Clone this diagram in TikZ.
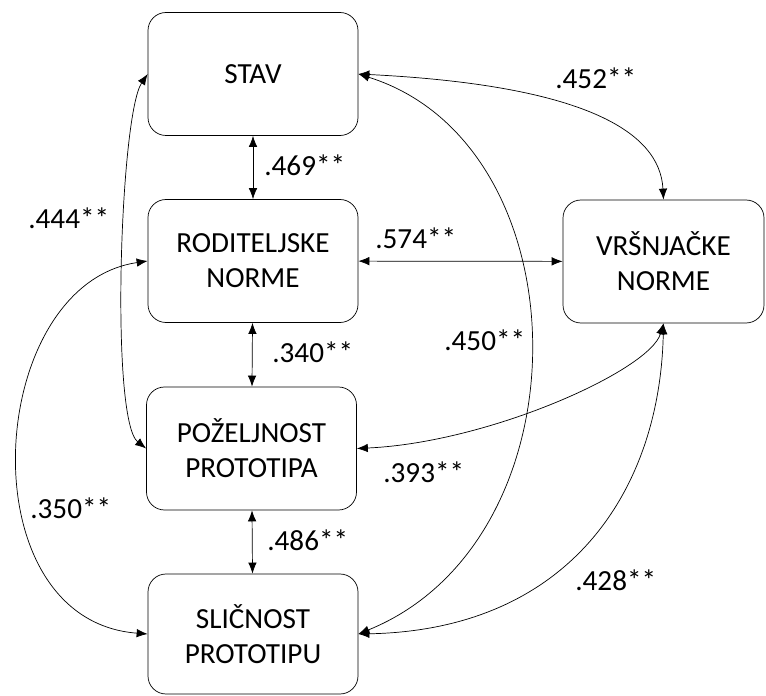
\documentclass[tikz,border=0pt]{standalone}
\usepackage{fontspec}
\setmainfont{Carlito}
\usepackage{tikz}
\usetikzlibrary{arrows.meta}

\begin{document}
\begin{tikzpicture}[
    varbox/.style={draw, rounded corners=0.36cm, minimum width=4.2cm, minimum height=2.46cm, align=center, font=\fontsize{16.6}{20}\selectfont},
    coef/.style={anchor=west, inner sep=0pt, font=\fontsize{16.6}{20}\selectfont},
    corr/.style={{Latex[length=2.2mm,width=1.7mm]}-{Latex[length=2.2mm,width=1.7mm]}, thin}
]
    \useasboundingbox (0,0) rectangle (15.32,-13.92);

    % Boxes
    \node[varbox] (stav) at (5.06,-1.48) {STAV};
    \node[varbox] (rod) at (5.06,-5.22) {RODITELJSKE\\NORME};
    \node[varbox, minimum width=4.02cm] (vrs) at (13.27,-5.23) {VRŠNJAČKE\\NORME};
    \node[varbox] (poz) at (5.03,-8.97) {POŽELJNOST\\PROTOTIPA};
    \node[varbox, minimum height=2.4cm] (sli) at (5.06,-12.68) {SLIČNOST\\PROTOTIPU};

    % Straight links
    \draw[corr] (stav) -- (rod); \node[coef] at (5.28,-3.3) {.469**};
    \draw[corr] (rod) -- (poz); \node[coef] at (5.44,-7.04) {.340**};
    \draw[corr] (poz) -- (sli); \node[coef] at (5.34,-10.8) {.486**};
    \draw[corr] (rod) -- (vrs); \node[coef] at (7.5,-4.76) {.574**};

    % Curved links
    \draw[corr] (stav.east) .. controls (11.6,-1.7) and (13.2,-2.6) .. (vrs.north);
    \node[coef] at (11.1,-1.56) {.452**};
    \draw[corr] (stav.west) .. controls (2.4,-2.3) and (2.2,-8.4) .. (poz.west);
    \node[coef] at (0.56,-4.36) {.444**};
    \draw[corr] (rod.west) .. controls (-0.3,-5.7) and (-0.7,-12.4) .. (sli.west);
    \node[coef] at (0.6,-10.16) {.350**};
    \draw[corr] (stav.east) .. controls (11.7,-2.9) and (11.8,-10.8) .. (sli.east);
    \node[coef] at (8.88,-6.8) {.450**};
    \draw[corr] (vrs.south) .. controls (13.0,-7.4) and (9.8,-8.85) .. (poz.east);
    \node[coef] at (7.66,-9.44) {.393**};
    \draw[corr] (vrs.south) .. controls (13.2,-9.8) and (11.4,-12.6) .. (sli.east);
    \node[coef] at (11.5,-11.6) {.428**};
\end{tikzpicture}
\end{document}
